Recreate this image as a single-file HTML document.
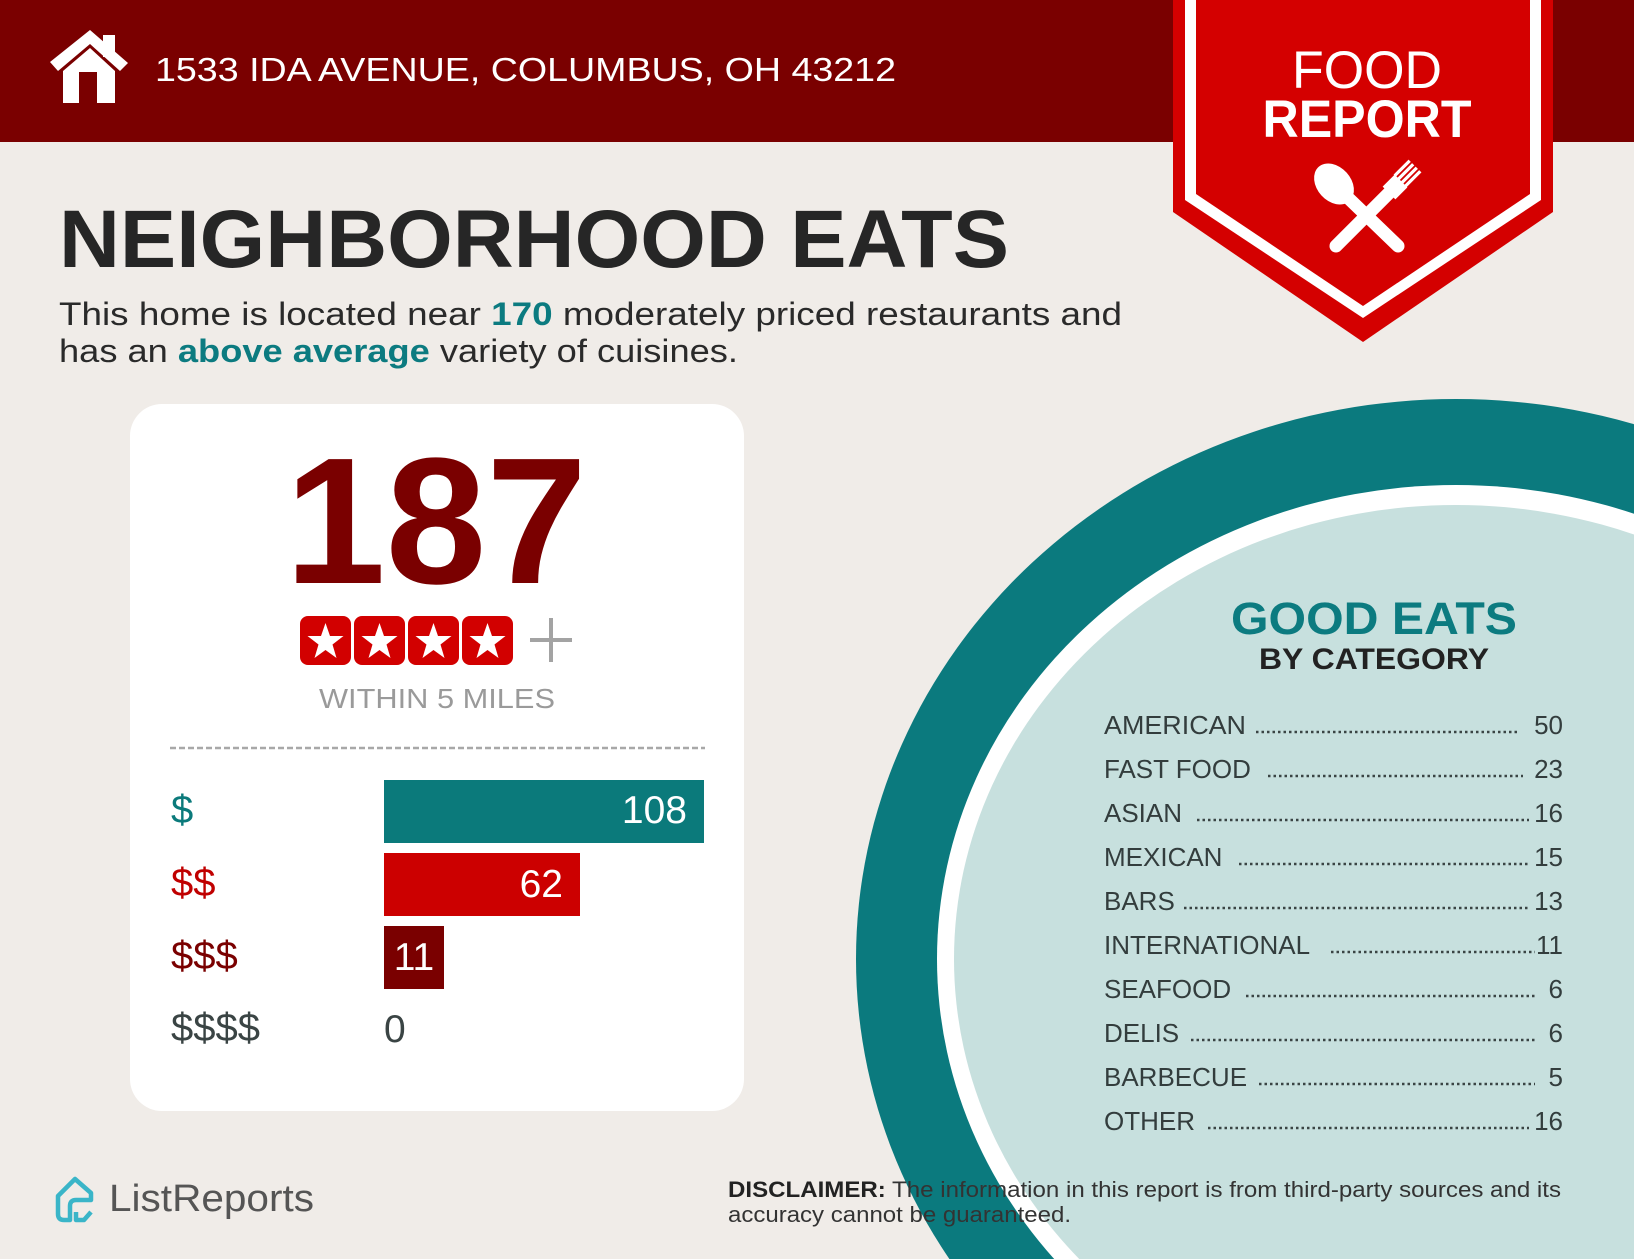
<!DOCTYPE html>
<html><head><meta charset="utf-8"><style>
html,body{margin:0;padding:0;background:#f0ece8;overflow:hidden;width:1634px;height:1259px;}
svg{display:block;}
text{font-family:"Liberation Sans",Arial,sans-serif;}
</style></head><body>
<svg width="1634" height="1259" viewBox="0 0 1634 1259" xmlns="http://www.w3.org/2000/svg">
<rect width="1634" height="1259" fill="#f0ece8"/>
<rect x="0" y="0" width="1634" height="142" fill="#7a0000"/>
<polygon points="90,30 128,63 120,71 90,44 58,71 50,62" fill="#fff"/>
<rect x="103" y="35" width="12" height="22" fill="#fff"/>
<polygon points="63,103 63,71 90,48 115,71 115,103 97,103 97,72 79,72 79,103" fill="#fff"/>
<text x="155" y="81" font-size="33" fill="#fff" textLength="741" lengthAdjust="spacingAndGlyphs">1533 IDA AVENUE, COLUMBUS, OH 43212</text>

<polygon points="1173,0 1553,0 1553,212 1363,342 1173,212" fill="#d40000"/>
<polygon points="1185,0 1541,0 1541,200 1363,318 1185,200" fill="#fff"/>
<polygon points="1196,0 1530,0 1530,194 1363,306 1196,194" fill="#d40000"/>
<text x="1367" y="88" font-size="53" fill="#fff" text-anchor="middle" textLength="150" lengthAdjust="spacingAndGlyphs">FOOD</text>
<text x="1367" y="137" font-size="53" font-weight="bold" fill="#fff" text-anchor="middle" textLength="209" lengthAdjust="spacingAndGlyphs">REPORT</text>
<g stroke="#fff" fill="#fff">
<line x1="1342" y1="192" x2="1398" y2="246" stroke-width="13" stroke-linecap="round"/>
<ellipse cx="1334" cy="184" rx="17" ry="23" transform="rotate(-42 1334 184)" stroke="none"/>
<line x1="1336" y1="246" x2="1392" y2="190" stroke-width="13" stroke-linecap="round"/>
<line x1="1389" y1="193" x2="1401" y2="181" stroke-width="18"/>
<g stroke-width="3.2">
<line x1="1394.7" y1="175.7" x2="1409.7" y2="160.7"/>
<line x1="1398.2" y1="179.2" x2="1413.2" y2="164.2"/>
<line x1="1401.8" y1="182.8" x2="1416.8" y2="167.8"/>
<line x1="1405.3" y1="186.3" x2="1420.3" y2="171.3"/>
</g>
</g>

<text x="59" y="267" font-size="82" font-weight="bold" fill="#262626" textLength="950" lengthAdjust="spacingAndGlyphs">NEIGHBORHOOD EATS</text>
<text x="59" y="325" font-size="32" fill="#2a2a2a" textLength="1063" lengthAdjust="spacingAndGlyphs">This home is located near <tspan font-weight="bold" fill="#0c7b80">170</tspan> moderately priced restaurants and</text>
<text x="59" y="362" font-size="32" fill="#2a2a2a" textLength="679" lengthAdjust="spacingAndGlyphs">has an <tspan font-weight="bold" fill="#0c7b80">above average</tspan> variety of cuisines.</text>

<ellipse cx="1456" cy="959" rx="600" ry="560" fill="#0b7a7e"/>
<ellipse cx="1456" cy="959" rx="519" ry="474" fill="#fff"/>
<ellipse cx="1456" cy="959" rx="502" ry="454" fill="#c7e0de"/>

<text x="1374" y="634" font-size="45" font-weight="bold" fill="#0c7b80" text-anchor="middle" textLength="286" lengthAdjust="spacingAndGlyphs">GOOD EATS</text>
<text x="1374" y="669" font-size="30" font-weight="bold" fill="#222" text-anchor="middle" textLength="230" lengthAdjust="spacingAndGlyphs">BY CATEGORY</text>

<g font-size="26" fill="#333d3d">
<text x="1104" y="734" textLength="142" lengthAdjust="spacingAndGlyphs">AMERICAN</text>
<text x="1104" y="778">FAST FOOD</text>
<text x="1104" y="822">ASIAN</text>
<text x="1104" y="866">MEXICAN</text>
<text x="1104" y="910">BARS</text>
<text x="1104" y="954">INTERNATIONAL</text>
<text x="1104" y="998">SEAFOOD</text>
<text x="1104" y="1042">DELIS</text>
<text x="1104" y="1086">BARBECUE</text>
<text x="1104" y="1130">OTHER</text>
</g>
<g font-size="26" fill="#333d3d" text-anchor="end">
<text x="1563" y="734">50</text><text x="1563" y="778">23</text><text x="1563" y="822">16</text><text x="1563" y="866">15</text><text x="1563" y="910">13</text><text x="1563" y="954">11</text><text x="1563" y="998">6</text><text x="1563" y="1042">6</text><text x="1563" y="1086">5</text><text x="1563" y="1130">16</text>
</g>
<g stroke="#3a4444" stroke-width="2.5" stroke-dasharray="2.5 3">
<line x1="1256" y1="732" x2="1518" y2="732"/>
<line x1="1268" y1="776" x2="1523" y2="776"/>
<line x1="1197" y1="820" x2="1529" y2="820"/>
<line x1="1239" y1="864" x2="1529" y2="864"/>
<line x1="1184" y1="908" x2="1529" y2="908"/>
<line x1="1331" y1="952" x2="1535" y2="952"/>
<line x1="1246" y1="996" x2="1535" y2="996"/>
<line x1="1191" y1="1040" x2="1535" y2="1040"/>
<line x1="1259" y1="1084" x2="1535" y2="1084"/>
<line x1="1208" y1="1128" x2="1529" y2="1128"/>
</g>

<rect x="130" y="404" width="614" height="707" rx="32" fill="#fff"/>
<text x="436" y="583" font-size="180" font-weight="bold" fill="#7a0000" text-anchor="middle" textLength="302" lengthAdjust="spacingAndGlyphs">187</text>
<g>
<rect x="300" y="616" width="51" height="49" rx="8" fill="#d20000"/>
<rect x="354" y="616" width="51" height="49" rx="8" fill="#d20000"/>
<rect x="408" y="616" width="51" height="49" rx="8" fill="#d20000"/>
<rect x="462" y="616" width="51" height="49" rx="8" fill="#d20000"/>
<g fill="#fff">
<polygon points="0,-19 4.5,-6 18,-6 7,2.5 11,16 0,8 -11,16 -7,2.5 -18,-6 -4.5,-6" transform="translate(325.5,642)"/>
<polygon points="0,-19 4.5,-6 18,-6 7,2.5 11,16 0,8 -11,16 -7,2.5 -18,-6 -4.5,-6" transform="translate(379.5,642)"/>
<polygon points="0,-19 4.5,-6 18,-6 7,2.5 11,16 0,8 -11,16 -7,2.5 -18,-6 -4.5,-6" transform="translate(433.5,642)"/>
<polygon points="0,-19 4.5,-6 18,-6 7,2.5 11,16 0,8 -11,16 -7,2.5 -18,-6 -4.5,-6" transform="translate(487.5,642)"/>
</g>
</g>
<g stroke="#a3a3a3" stroke-width="4"><line x1="530" y1="640" x2="572" y2="640"/><line x1="551" y1="618" x2="551" y2="662"/></g>
<text x="437" y="708" font-size="28" fill="#9a9a9a" text-anchor="middle" textLength="236" lengthAdjust="spacingAndGlyphs">WITHIN 5 MILES</text>
<line x1="170" y1="748" x2="705" y2="748" stroke="#a8a8a8" stroke-width="2.5" stroke-dasharray="6 3"/>

<rect x="384" y="780" width="320" height="63" fill="#0b7a7b"/>
<rect x="384" y="853" width="196" height="63" fill="#cc0000"/>
<rect x="384" y="926" width="60" height="63" fill="#7a0000"/>
<g font-size="39" fill="#fff">
<text x="687" y="823" text-anchor="end">108</text>
<text x="563" y="897" text-anchor="end">62</text>
<text x="414" y="970" text-anchor="middle">11</text>
</g>
<text x="384" y="1042" font-size="39" fill="#3a4444">0</text>
<g font-size="40">
<text x="171" y="823" fill="#0b7a7b">$</text>
<text x="171" y="896" fill="#c00000">$$</text>
<text x="171" y="969" fill="#7a0000">$$$</text>
<text x="171" y="1041" fill="#3a4444">$$$$</text>
</g>

<path d="M58,1196 L58,1214 Q58,1220 64,1220 L70,1220 L70,1206 Q70,1200 76,1200 L91,1200 L91,1193 L75,1179 Z M76,1212 L76,1220 L84,1220 L91,1212" fill="none" stroke="#3ab5c8" stroke-width="4.5" stroke-linejoin="round"/>
<text x="109" y="1211" font-size="38" fill="#555" textLength="205" lengthAdjust="spacingAndGlyphs">ListReports</text>
<text x="728" y="1197" font-size="22" fill="#333" textLength="833" lengthAdjust="spacingAndGlyphs"><tspan font-weight="bold" fill="#222">DISCLAIMER:</tspan> The information in this report is from third-party sources and its</text>
<text x="728" y="1222" font-size="22" fill="#333" textLength="343" lengthAdjust="spacingAndGlyphs">accuracy cannot be guaranteed.</text>
</svg>
</body></html>
